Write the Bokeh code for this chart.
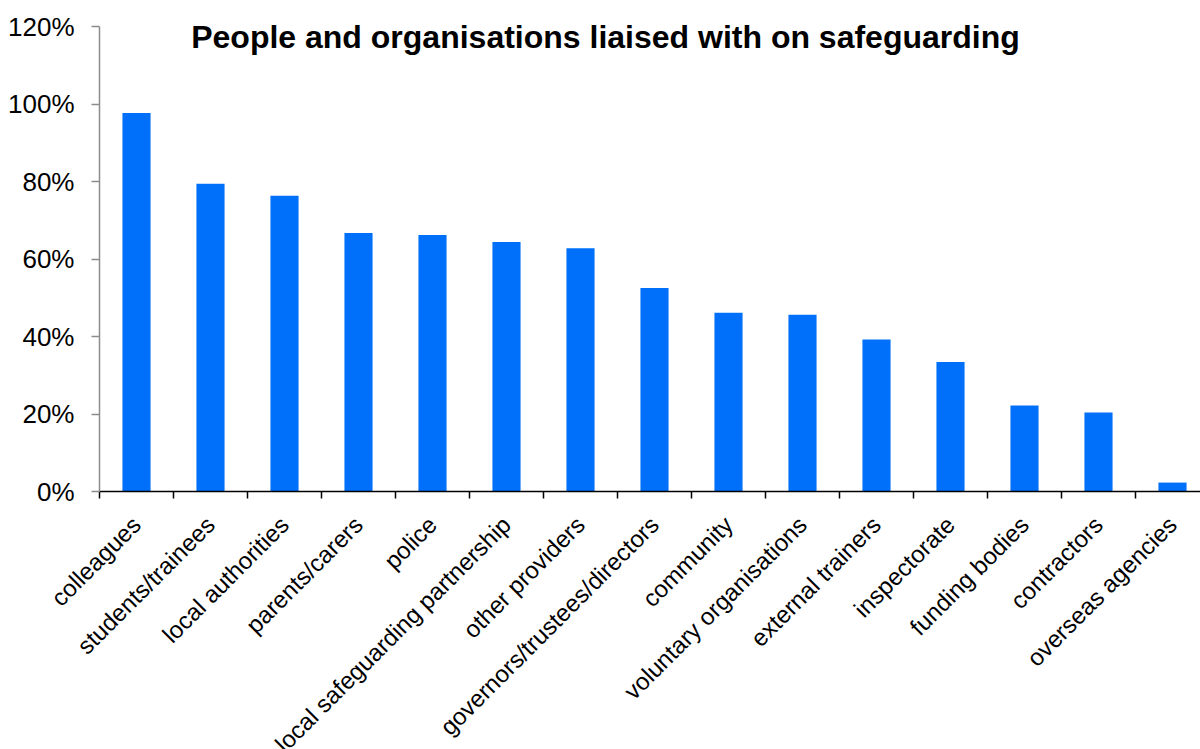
from bokeh.plotting import figure
from bokeh.models import Range1d, FixedTicker, Label, ColumnDataSource
from bokeh.embed import file_html
from bokeh.resources import INLINE
import math

title_text = "People and organisations liaised with on safeguarding"
categories = ["colleagues", "students/trainees", "local authorities", "parents/carers",
              "police", "local safeguarding partnership", "other providers",
              "governors/trustees/directors", "community", "voluntary organisations",
              "external trainers", "inspectorate", "funding bodies", "contractors",
              "overseas agencies"]
values = [0.977, 0.794, 0.763, 0.667, 0.662, 0.644, 0.628, 0.525, 0.461, 0.456,
          0.392, 0.334, 0.222, 0.204, 0.023]
y_ticks = [0, 0.2, 0.4, 0.6, 0.8, 1.0, 1.2]
y_tick_labels = ["0%", "20%", "40%", "60%", "80%", "100%", "120%"]

n = len(categories)
centers = [i + 0.5 for i in range(n)]
src = ColumnDataSource(dict(x=centers, top=values))

W, H = 1200, 749
axis_x_px = 99         # pixel column of the y axis
axis_px = 491          # pixel row of the x axis (0%)
top120_px = 26         # pixel row of the 120% tick
unit = 74.0
x_start = -axis_x_px / unit
x_end = (W - axis_x_px) / unit
px_per_unit = (axis_px - top120_px) / 1.2
y_end = 1.2 + top120_px / px_per_unit
y_start = -(H - axis_px) / px_per_unit

p = figure(width=W, height=H, output_backend="svg", toolbar_location=None,
           x_range=Range1d(x_start, x_end), y_range=Range1d(y_start, y_end),
           min_border_left=0, min_border_right=0, min_border_top=0,
           min_border_bottom=0)
p.outline_line_color = None
p.grid.visible = False
p.background_fill_color = "white"
p.border_fill_color = "white"

p.vbar(x="x", top="top", width=0.38, bottom=0, source=src,
       fill_color="#0070FA", line_color=None)

# y axis, placed at x = 0 inside the frame
ya = p.yaxis[0]
ya.fixed_location = 0
ya.bounds = (0, 1.2)
ya.ticker = FixedTicker(ticks=y_ticks)
ya.major_label_overrides = {t: l for t, l in zip(y_ticks, y_tick_labels)}
ya.axis_line_color = "#8c8c8c"
ya.axis_line_width = 1.5
ya.major_tick_line_color = "#8c8c8c"
ya.major_tick_line_width = 1.5
ya.major_tick_out = 8
ya.major_tick_in = 0
ya.minor_tick_line_color = None
ya.major_label_standoff = 17
ya.major_label_text_font = "Liberation Sans"
ya.major_label_text_font_size = "26px"
ya.major_label_text_color = "#000000"
ya.major_label_text_font_style = "normal"

# x axis, placed at y = 0 inside the frame
xa = p.xaxis[0]
xa.fixed_location = 0
xa.bounds = (0, x_end)
xa.ticker = FixedTicker(ticks=centers, minor_ticks=list(range(n + 1)))
xa.major_label_overrides = {c: l for c, l in zip(centers, categories)}
xa.axis_line_color = "#000000"
xa.axis_line_width = 1.5
xa.major_tick_line_color = None
xa.minor_tick_line_color = "#000000"
xa.minor_tick_line_width = 1.5
xa.minor_tick_out = 7
xa.minor_tick_in = 0
xa.major_label_orientation = math.pi / 4
xa.major_label_standoff = 22
xa.major_label_text_font = "Liberation Sans"
xa.major_label_text_font_size = "24px"
xa.major_label_text_color = "#000000"

# title placed over the plot area
t = Label(x=(605 - axis_x_px) / unit, y=(axis_px - 36) / px_per_unit, text=title_text,
          text_font="Liberation Sans", text_font_size="32px",
          text_font_style="bold", text_align="center", text_baseline="alphabetic",
          text_color="#000000")
p.add_layout(t)

open("out.html", "w").write(file_html(p, INLINE))
